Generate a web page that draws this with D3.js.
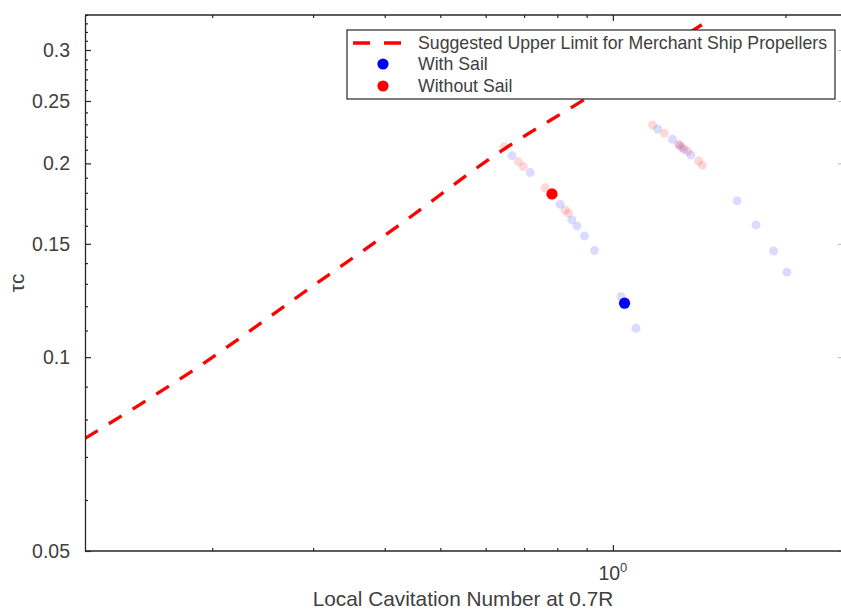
<!DOCTYPE html>
<html>
<head>
<meta charset="utf-8">
<script src="https://cdn.jsdelivr.net/npm/d3@7"></script>
<style>
  body { margin: 0; background: #fff; }
  text { font-family: "Liberation Sans", Arial, Helvetica, sans-serif; fill: #404040; }
</style>
</head>
<body>
<svg id="chart" width="841" height="609"></svg>
<script>
// Suggested upper limit for merchant ship propellers (Burrill chart)
const limitSigma = [0.12, 0.1905, 0.2847, 0.4289, 0.631, 0.888, 1.491];
const limitTau   = [0.0748, 0.097, 0.1249, 0.1616, 0.2076, 0.2508, 0.3364];

// Operating points, with sail
const withSailSigma = [0.667, 0.7175, 0.809, 0.848, 0.866, 0.892, 0.929, 1.033, 1.097,
                       1.197, 1.270, 1.308, 1.331, 1.368, 1.647, 1.777, 1.907, 2.012];
const withSailTau   = [0.2056, 0.1935, 0.1728, 0.1634, 0.1599, 0.1543, 0.1464, 0.1242, 0.1109,
                       0.2262, 0.2180, 0.2132, 0.2102, 0.2060, 0.1749, 0.1605, 0.1462, 0.1355];

// Operating points, without sail
const withoutSailSigma = [0.646, 0.684, 0.698, 0.762, 0.826, 0.837,
                          1.173, 1.230, 1.301, 1.320, 1.351, 1.411, 1.433];
const withoutSailTau   = [0.2123, 0.2013, 0.1977, 0.1833, 0.1693, 0.1673,
                          0.2294, 0.2227, 0.2142, 0.2117, 0.2088, 0.2017, 0.1986];

// Highlighted design points
const designWithSail    = [1.048, 0.1213];
const designWithoutSail = [0.783, 0.1793];

// Axis settings
const xDomain = [0.12, 2.5];
const yDomain = [0.05, 0.34];
const xMajorTicks = [1];
const xMinorTicks = [0.2, 0.3, 0.4, 0.5, 0.6, 0.7, 0.8, 0.9, 2];
const yMajorTicks = [0.05, 0.1, 0.15, 0.2, 0.25, 0.3];
const yMajorLabels = ["0.05", "0.1", "0.15", "0.2", "0.25", "0.3"];
const yMinorTicks = [0.06, 0.07, 0.08, 0.09, 0.11, 0.12, 0.13, 0.14, 0.16, 0.17, 0.18, 0.19,
                     0.21, 0.22, 0.23, 0.24, 0.26, 0.27, 0.28, 0.29, 0.31, 0.32, 0.33, 0.34];

const legendLabels = ["Suggested Upper Limit for Merchant Ship Propellers", "With Sail", "Without Sail"];
const xLabel = "Local Cavitation Number at 0.7R";
const yLabel = "τc";

const plotLeft = 85, plotRight = 841, plotTop = 15, plotBottom = 551;
const axisColor = "#262626";

const svg = d3.select("#chart");
const x = d3.scaleLog().domain(xDomain).range([plotLeft, plotRight]);
const y = d3.scaleLog().domain(yDomain).range([plotBottom, plotTop]);

svg.append("defs").append("clipPath").attr("id", "plotClip")
  .append("rect").attr("x", plotLeft).attr("y", plotTop)
  .attr("width", plotRight - plotLeft).attr("height", plotBottom - plotTop);

const plot = svg.append("g").attr("clip-path", "url(#plotClip)");

// Faded operating points
const blueFaint = d3.zip(withSailSigma, withSailTau);
const redFaint = d3.zip(withoutSailSigma, withoutSailTau);
plot.selectAll("circle.blue").data(blueFaint).join("circle")
  .attr("class", "blue")
  .attr("cx", d => x(d[0])).attr("cy", d => y(d[1])).attr("r", 4.5)
  .attr("fill", "#0000ff").attr("fill-opacity", 0.14);
plot.selectAll("circle.red").data(redFaint).join("circle")
  .attr("class", "red")
  .attr("cx", d => x(d[0])).attr("cy", d => y(d[1])).attr("r", 4.5)
  .attr("fill", "#ff0000").attr("fill-opacity", 0.15);

// Upper limit curve
const limitLine = d3.line()
  .x(d => x(d[0])).y(d => y(d[1]))
  .curve(d3.curveMonotoneX);
plot.append("path")
  .datum(d3.zip(limitSigma, limitTau))
  .attr("d", limitLine)
  .attr("fill", "none")
  .attr("stroke", "#ff0000")
  .attr("stroke-width", 3.3)
  .attr("stroke-dasharray", "15,13");

// Design points
plot.append("circle")
  .attr("cx", x(designWithSail[0])).attr("cy", y(designWithSail[1])).attr("r", 5.6)
  .attr("fill", "#0000ff");
plot.append("circle")
  .attr("cx", x(designWithoutSail[0])).attr("cy", y(designWithoutSail[1])).attr("r", 5.6)
  .attr("fill", "#ff0000");

// Axes (ticks pointing inward, box with mirrored ticks)
function styleAxis(g) {
  g.selectAll("path.domain").attr("stroke", axisColor).attr("stroke-width", 1.3);
  g.selectAll(".tick line").attr("stroke", axisColor).attr("stroke-width", 1.2);
}

// Left axis
const yAxisMajor = d3.axisLeft(y).tickValues(yMajorTicks)
  .tickFormat((d, i) => yMajorLabels[i]).tickSizeInner(-6).tickSizeOuter(0).tickPadding(15);
const gy = svg.append("g").attr("transform", `translate(${plotLeft},0)`).call(yAxisMajor);
gy.selectAll(".tick text").style("font-size", "19.5px").attr("fill", "#404040");
styleAxis(gy);
const gyMinor = svg.append("g").attr("transform", `translate(${plotLeft},0)`)
  .call(d3.axisLeft(y).tickValues(yMinorTicks).tickFormat("").tickSizeInner(-3).tickSizeOuter(0));
gyMinor.select("path.domain").remove();
styleAxis(gyMinor);

// Right axis (box edge)
const gyr = svg.append("g").attr("transform", `translate(${plotRight + 1},0)`)
  .call(d3.axisRight(y).tickValues(yMajorTicks).tickFormat("").tickSizeInner(-4).tickSizeOuter(0));
gyr.selectAll("path.domain").attr("stroke", axisColor);
gyr.selectAll(".tick line").attr("stroke", axisColor).attr("stroke-opacity", 0.35);

// Bottom axis
const gx = svg.append("g").attr("transform", `translate(0,${plotBottom})`)
  .call(d3.axisBottom(x).tickValues(xMajorTicks).tickFormat("").tickSizeInner(-6).tickSizeOuter(0));
styleAxis(gx);
gx.select("path.domain").attr("d", `M${plotLeft},0H${plotRight + 2}`);
const gxMinor = svg.append("g").attr("transform", `translate(0,${plotBottom})`)
  .call(d3.axisBottom(x).tickValues(xMinorTicks).tickFormat("").tickSizeInner(-3).tickSizeOuter(0));
gxMinor.select("path.domain").remove();
styleAxis(gxMinor);

// Top axis
const gxt = svg.append("g").attr("transform", `translate(0,${plotTop})`)
  .call(d3.axisTop(x).tickValues(xMajorTicks).tickFormat("").tickSizeInner(-6).tickSizeOuter(0));
styleAxis(gxt);
gxt.select("path.domain").attr("d", `M${plotLeft},0H${plotRight + 2}`);
const gxtMinor = svg.append("g").attr("transform", `translate(0,${plotTop})`)
  .call(d3.axisTop(x).tickValues(xMinorTicks).tickFormat("").tickSizeInner(-3).tickSizeOuter(0));
gxtMinor.select("path.domain").remove();
styleAxis(gxtMinor);

// Power-of-ten label on the x axis
xMajorTicks.forEach(v => {
  const t = svg.append("text")
    .attr("x", x(v)).attr("y", plotBottom + 29)
    .attr("text-anchor", "middle")
    .style("font-size", "19.5px");
  t.append("tspan").text("10");
  t.append("tspan").attr("dy", -8).style("font-size", "13px").text(Math.round(Math.log10(v)));
});

// Axis titles
svg.append("text")
  .attr("x", (plotLeft + plotRight) / 2).attr("y", 606)
  .attr("text-anchor", "middle")
  .style("font-size", "20.8px")
  .text(xLabel);
svg.append("text")
  .attr("transform", `translate(24,${(plotTop + plotBottom) / 2}) rotate(-90)`)
  .attr("text-anchor", "middle")
  .style("font-size", "20.8px")
  .text(yLabel);

// Legend
const lg = svg.append("g");
lg.append("rect")
  .attr("x", 347).attr("y", 30).attr("width", 488).attr("height", 69)
  .attr("fill", "#fff").attr("stroke", axisColor).attr("stroke-width", 1.2);
const rowY = [43, 64, 86];
lg.append("line")
  .attr("x1", 353).attr("x2", 401).attr("y1", rowY[0]).attr("y2", rowY[0])
  .attr("stroke", "#ff0000").attr("stroke-width", 3.3).attr("stroke-dasharray", "17,14");
lg.append("circle").attr("cx", 383).attr("cy", rowY[1]).attr("r", 5.6).attr("fill", "#0000ff");
lg.append("circle").attr("cx", 383).attr("cy", rowY[2]).attr("r", 5.6).attr("fill", "#ff0000");
legendLabels.forEach((s, i) => {
  lg.append("text")
    .attr("x", 418).attr("y", rowY[i] + 6.3)
    .style("font-size", "17.7px")
    .text(s);
});
</script>
</body>
</html>
